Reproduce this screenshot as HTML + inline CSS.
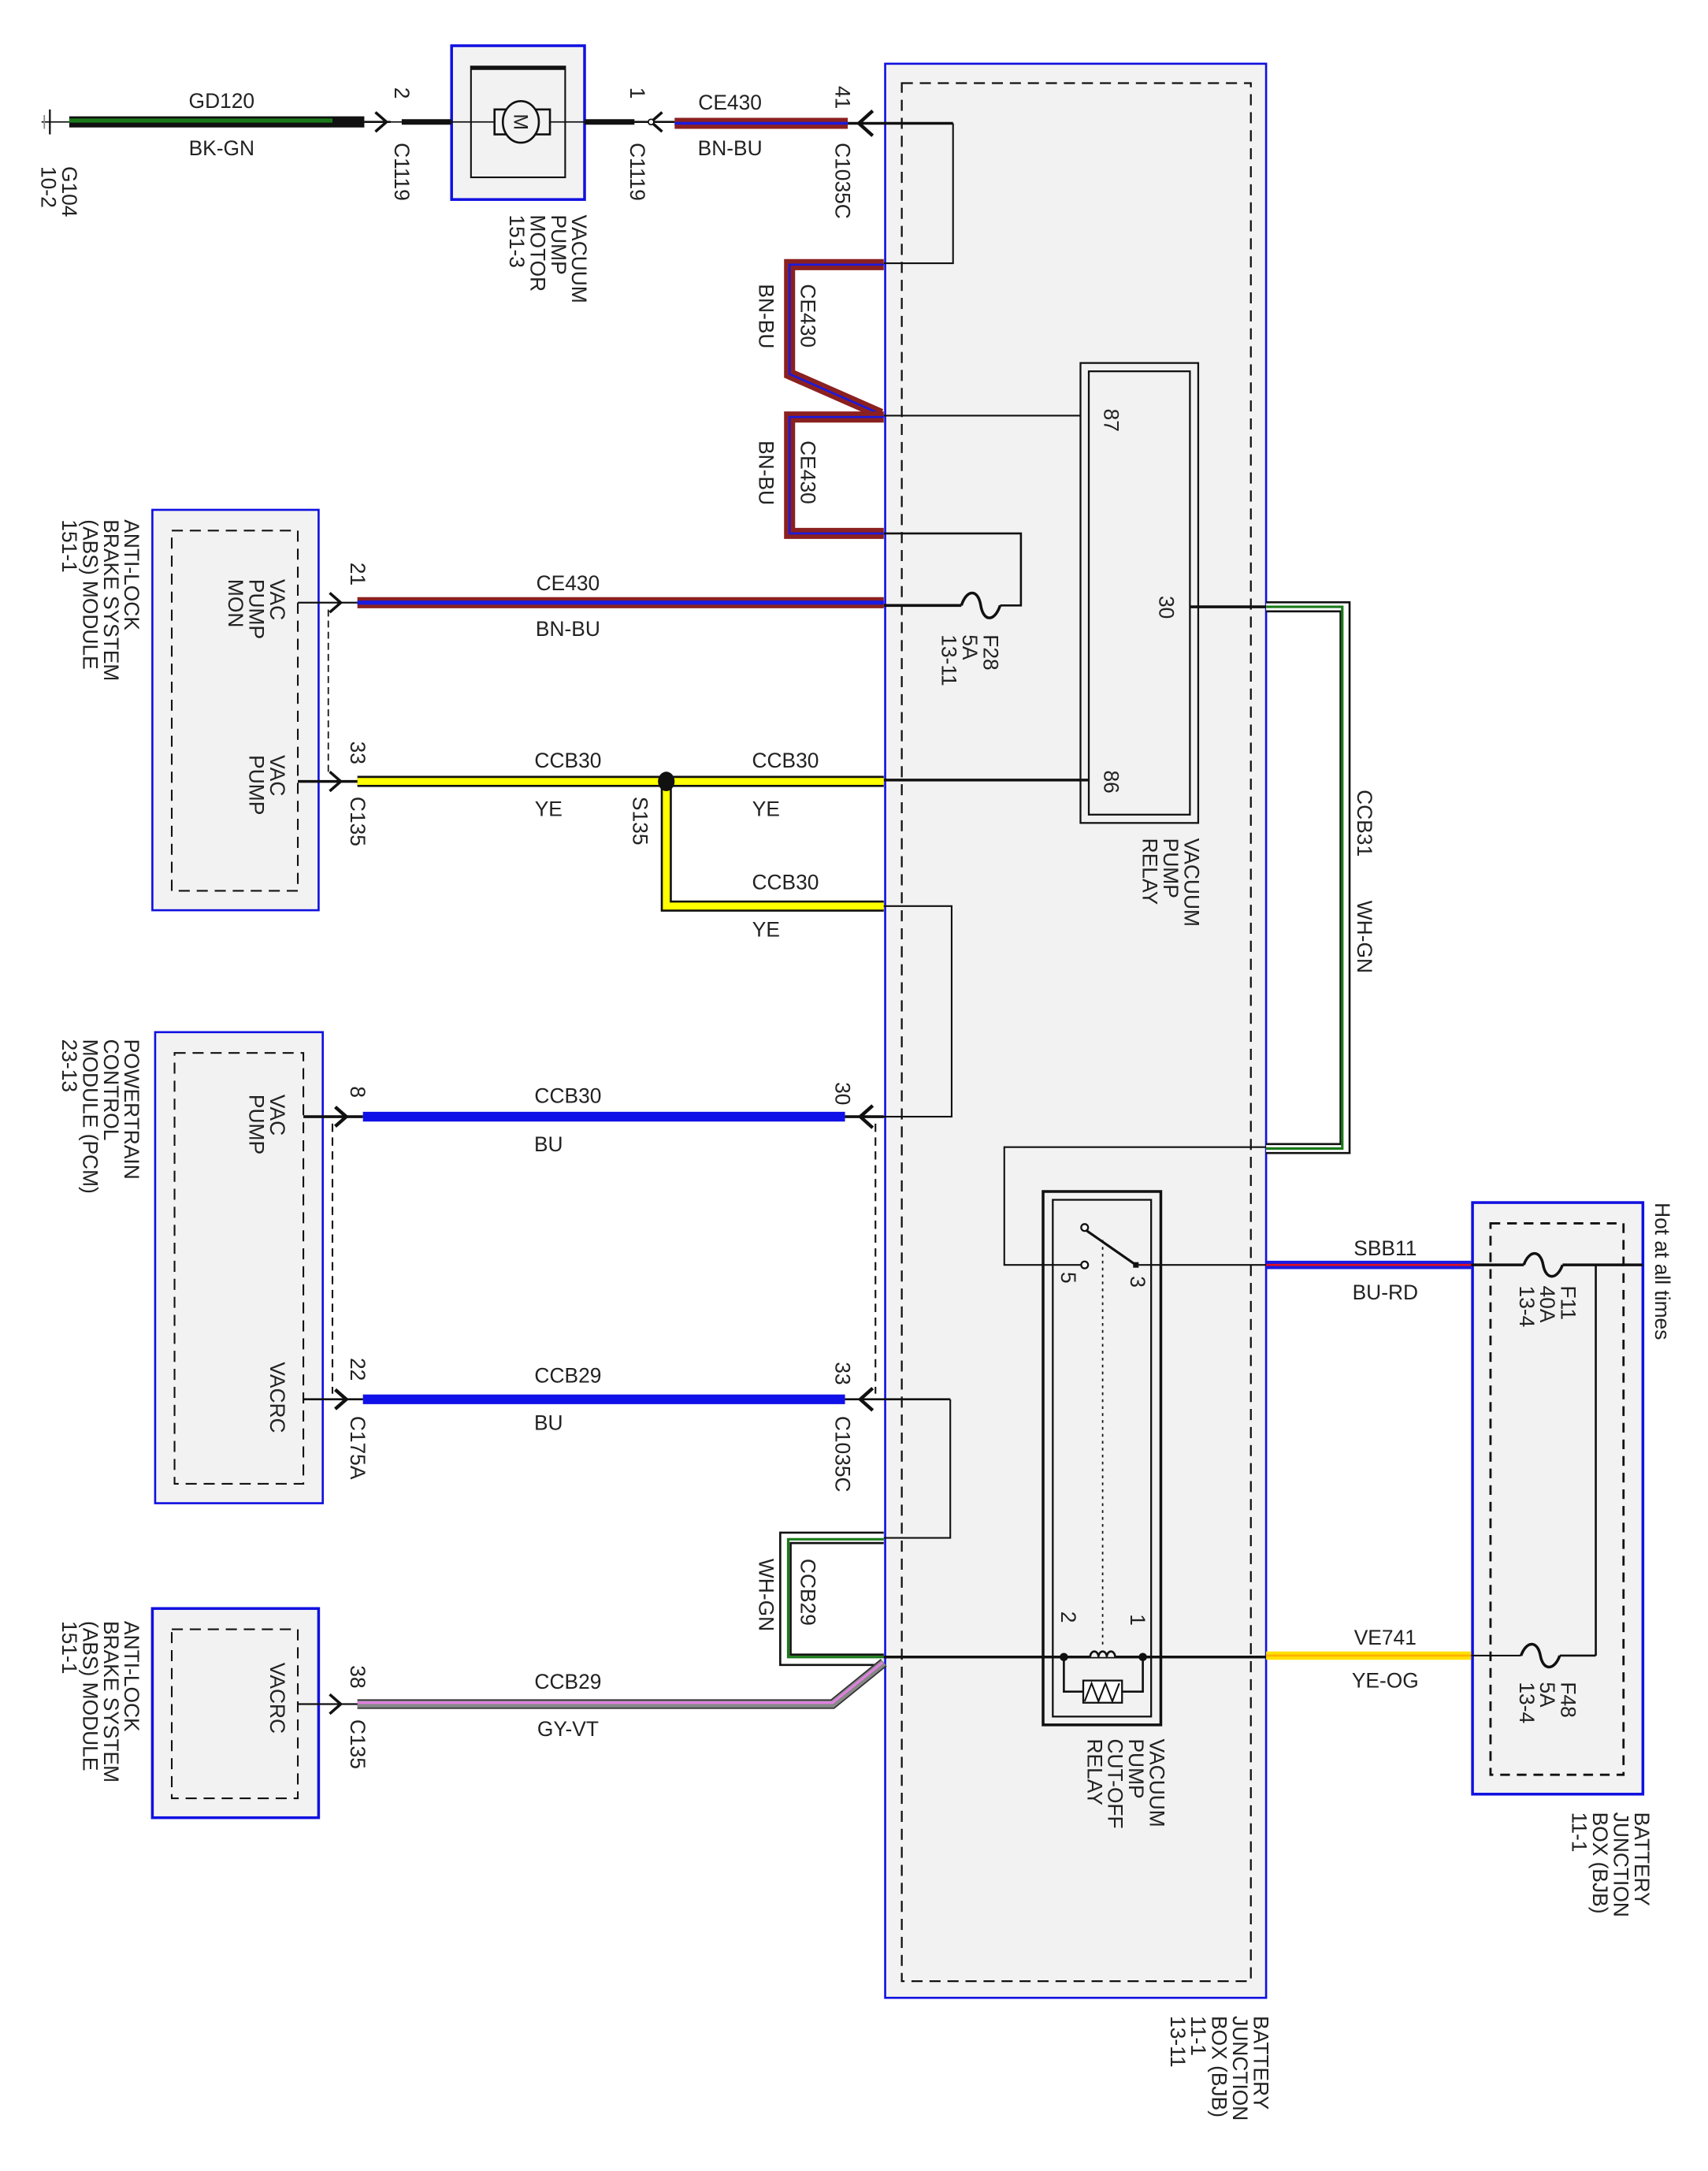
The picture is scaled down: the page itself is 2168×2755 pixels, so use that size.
<!DOCTYPE html>
<html><head><meta charset="utf-8"><style>
html,body{margin:0;padding:0;background:#fff;}
svg{display:block;}
text{font-family:"Liberation Sans",sans-serif;font-size:15px;fill:#222;}
.r{font-size:14px;}
</style></head><body>
<svg width="2168" height="2755" viewBox="0 0 1233 1567" preserveAspectRatio="none" xmlns="http://www.w3.org/2000/svg">
<!-- big BJB -->
<rect x="639" y="46" width="275" height="1396" fill="#f2f2f2" stroke="#1010e0" stroke-width="1.5"/>
<rect x="651" y="60" width="252" height="1370" fill="none" stroke="#111" stroke-width="1.3" stroke-dasharray="8,5"/>
<!-- small BJB -->
<rect x="1063" y="868" width="123" height="427" fill="#f2f2f2" stroke="#1010e0" stroke-width="2"/>
<rect x="1076" y="883" width="96" height="398" fill="none" stroke="#111" stroke-width="1.6" stroke-dasharray="7,5"/>
<!-- ABS top -->
<rect x="110" y="368" width="120" height="289" fill="#f2f2f2" stroke="#1010e0" stroke-width="1.5"/>
<rect x="124" y="383" width="91" height="260" fill="none" stroke="#111" stroke-width="1.2" stroke-dasharray="8,5"/>
<!-- PCM -->
<rect x="112" y="745" width="121" height="340" fill="#f2f2f2" stroke="#1010e0" stroke-width="1.5"/>
<rect x="126" y="760" width="93" height="311" fill="none" stroke="#111" stroke-width="1.2" stroke-dasharray="8,5"/>
<!-- ABS bottom -->
<rect x="110" y="1161" width="120" height="151" fill="#f2f2f2" stroke="#1010e0" stroke-width="2"/>
<rect x="124" y="1176" width="91" height="122" fill="none" stroke="#111" stroke-width="1.2" stroke-dasharray="8,5"/>
<!-- motor -->
<rect x="326" y="33" width="96" height="111" fill="#f2f2f2" stroke="#1010e0" stroke-width="2"/>
<rect x="340" y="48" width="68" height="80" fill="none" stroke="#111" stroke-width="1.2"/>
<line x1="340" y1="49" x2="408" y2="49" stroke="#111" stroke-width="3"/>
<line x1="280" y1="88" x2="470" y2="88" stroke="#111" stroke-width="1"/>
<rect x="357" y="79" width="40" height="18" fill="#f2f2f2" stroke="#111" stroke-width="1.5"/>
<ellipse cx="376" cy="88" rx="13" ry="15" fill="#f2f2f2" stroke="#111" stroke-width="1.5"/>
<text x="376" y="88" class="r" text-anchor="middle" transform="rotate(90 376 88)" dy="5">M</text>
<line x1="290" y1="88" x2="326" y2="88" stroke="#111" stroke-width="4"/>
<line x1="422" y1="88" x2="458" y2="88" stroke="#111" stroke-width="4"/>

<!-- ground -->
<line x1="30" y1="88" x2="50" y2="88" stroke="#111" stroke-width="1"/>
<line x1="36" y1="79" x2="36" y2="97" stroke="#111" stroke-width="1.3"/>
<line x1="32" y1="83" x2="32" y2="93" stroke="#888" stroke-width="1"/>
<!-- GD120 -->
<line x1="50" y1="88" x2="263" y2="88" stroke="#111" stroke-width="8"/>
<line x1="50" y1="87" x2="240" y2="87" stroke="#1a7a1a" stroke-width="3"/>
<line x1="263" y1="88" x2="282" y2="88" stroke="#111" stroke-width="1.5"/>
<path d="M271,81 L279,88 L271,95" fill="none" stroke="#111" stroke-width="2"/>
<!-- CE430 top -->
<line x1="487" y1="89" x2="612" y2="89" stroke="#8b2020" stroke-width="8"/>
<line x1="487" y1="89" x2="612" y2="89" stroke="#1a1ae0" stroke-width="2"/>
<line x1="458" y1="88" x2="487" y2="88" stroke="#111" stroke-width="1.5"/>
<path d="M478,81 L470,88 L478,95" fill="none" stroke="#111" stroke-width="2"/>
<circle cx="470" cy="88" r="2" fill="#fff" stroke="#111"/>
<line x1="612" y1="89" x2="688" y2="89" stroke="#111" stroke-width="2"/>
<path d="M630,80 L620,89 L630,98" fill="none" stroke="#111" stroke-width="2.5"/>
<polyline points="688,89 688,190 638,190" fill="none" stroke="#111" stroke-width="1.2"/>

<!-- CE430 loop harnesses -->
<g fill="none" stroke-linejoin="miter">
<polyline points="638,191 570,191 570,270 636,299" stroke="#8b2020" stroke-width="8"/>
<polyline points="638,191 570,191 570,270 636,299" stroke="#1a1ae0" stroke-width="1.5"/>
<polyline points="638,301 570,301 570,385 638,385" stroke="#8b2020" stroke-width="8"/>
<polyline points="638,301 570,301 570,385 638,385" stroke="#1a1ae0" stroke-width="1.5"/>
</g>
<line x1="638" y1="300" x2="780" y2="300" stroke="#111" stroke-width="1.2"/>
<polyline points="638,385 737,385 737,437 722,437" fill="none" stroke="#111" stroke-width="1.5"/>
<path d="M694,437 C698,425 706,425 708,437 C710,449 718,449 722,437" fill="none" stroke="#111" stroke-width="2"/>
<line x1="638" y1="437" x2="694" y2="437" stroke="#111" stroke-width="2"/>

<!-- relay -->
<rect x="780" y="262" width="85" height="332" fill="none" stroke="#111" stroke-width="1.3"/>
<rect x="786" y="268" width="73" height="320" fill="none" stroke="#111" stroke-width="1.3"/>
<line x1="859" y1="438" x2="914" y2="438" stroke="#111" stroke-width="2"/>
<line x1="638" y1="563" x2="786" y2="563" stroke="#111" stroke-width="2"/>

<!-- CCB31 harness -->
<polyline points="914,438 971,438 971,829 914,829" fill="none" stroke="#111" stroke-width="8"/>
<polyline points="914,438 971,438 971,829 914,829" fill="none" stroke="#fff" stroke-width="5"/>
<polyline points="914,438 969,438 969,829 914,829" fill="none" stroke="#1a7a1a" stroke-width="1.8"/>

<!-- CE430 ABS -->
<line x1="258" y1="435" x2="638" y2="435" stroke="#8b2020" stroke-width="8"/>
<line x1="258" y1="435" x2="638" y2="435" stroke="#1a1ae0" stroke-width="3"/>
<line x1="215" y1="435" x2="258" y2="435" stroke="#111" stroke-width="1.3"/>
<path d="M238,428 L246,435 L238,442" fill="none" stroke="#111" stroke-width="2"/>
<line x1="237" y1="440" x2="237" y2="560" stroke="#111" stroke-width="1" stroke-dasharray="5,3"/>

<!-- YE -->
<line x1="258" y1="564" x2="638" y2="564" stroke="#111" stroke-width="8"/>
<line x1="258" y1="564" x2="638" y2="564" stroke="#ffff00" stroke-width="5"/>
<polyline points="481,564 481,654 638,654" fill="none" stroke="#111" stroke-width="8"/>
<polyline points="481,564 481,654 638,654" fill="none" stroke="#ffff00" stroke-width="5"/>
<ellipse cx="481" cy="564" rx="6" ry="7" fill="#111"/>
<line x1="215" y1="564" x2="258" y2="564" stroke="#111" stroke-width="2"/>
<path d="M238,557 L246,564 L238,571" fill="none" stroke="#111" stroke-width="2"/>
<polyline points="638,654 687,654 687,806 620,806" fill="none" stroke="#111" stroke-width="1.2"/>

<!-- BU wires -->
<line x1="262" y1="806" x2="610" y2="806" stroke="#1010e8" stroke-width="7"/>
<line x1="219" y1="806" x2="262" y2="806" stroke="#111" stroke-width="2"/>
<path d="M242,799 L250,806 L242,813" fill="none" stroke="#111" stroke-width="2.5"/>
<line x1="610" y1="806" x2="638" y2="806" stroke="#111" stroke-width="2"/>
<path d="M630,798 L621,806 L630,814" fill="none" stroke="#111" stroke-width="2.5"/>
<line x1="262" y1="1010" x2="610" y2="1010" stroke="#1010e8" stroke-width="7"/>
<line x1="219" y1="1010" x2="262" y2="1010" stroke="#111" stroke-width="1.5"/>
<path d="M242,1003 L250,1010 L242,1017" fill="none" stroke="#111" stroke-width="2.5"/>
<line x1="610" y1="1010" x2="686" y2="1010" stroke="#111" stroke-width="1.5"/>
<path d="M630,1002 L621,1010 L630,1018" fill="none" stroke="#111" stroke-width="2.5"/>
<line x1="240" y1="811" x2="240" y2="1006" stroke="#111" stroke-width="1.2" stroke-dasharray="6,4"/>
<line x1="632" y1="811" x2="632" y2="1006" stroke="#111" stroke-width="1.2" stroke-dasharray="6,4"/>
<polyline points="686,1010 686,1110 638,1110" fill="none" stroke="#111" stroke-width="1.2"/>

<!-- CCB29 WH-GN -->
<polyline points="638,1110 567,1110 567,1198 638,1198" fill="none" stroke="#111" stroke-width="9"/>
<polyline points="638,1110 567,1110 567,1198 638,1198" fill="none" stroke="#fff" stroke-width="6"/>
<polyline points="638,1111 569,1111 569,1196 638,1196" fill="none" stroke="#1a7a1a" stroke-width="1.8"/>
<!-- GY-VT -->
<polyline points="258,1230 601,1230 638,1200" fill="none" stroke="#333" stroke-width="7"/>
<polyline points="258,1230 601,1230 638,1200" fill="none" stroke="#888" stroke-width="5"/>
<polyline points="258,1229 601,1229 637,1200" fill="none" stroke="#e080e0" stroke-width="1.8"/>
<line x1="215" y1="1230" x2="258" y2="1230" stroke="#111" stroke-width="1.3"/>
<path d="M238,1223 L246,1230 L238,1237" fill="none" stroke="#111" stroke-width="2"/>

<!-- cutoff relay -->
<rect x="753" y="860" width="85" height="385" fill="none" stroke="#111" stroke-width="2"/>
<rect x="760" y="866" width="71" height="373" fill="none" stroke="#111" stroke-width="1.3"/>
<line x1="638" y1="1196" x2="914" y2="1196" stroke="#111" stroke-width="2"/>
<path d="M787,1196 a3,4 0 0 1 6,0 a3,4 0 0 1 6,0 a3,4 0 0 1 6,0" fill="#f2f2f2" stroke="#111" stroke-width="1.5"/>
<circle cx="768" cy="1196" r="3" fill="#111"/><circle cx="825" cy="1196" r="3" fill="#111"/>
<polyline points="768,1196 768,1221 825,1221 825,1196" fill="none" stroke="#111" stroke-width="1.5"/>
<rect x="782" y="1213" width="28" height="16" fill="#fff" stroke="#111" stroke-width="1.3"/>
<polyline points="783,1228 788,1215 793,1228 798,1215 803,1228 808,1215" fill="none" stroke="#111" stroke-width="1.2"/>
<line x1="796" y1="895" x2="796" y2="1190" stroke="#111" stroke-width="1" stroke-dasharray="2,3"/>
<line x1="784" y1="888" x2="820" y2="913" stroke="#111" stroke-width="1.8"/>
<circle cx="783" cy="886" r="2.5" fill="#fff" stroke="#111" stroke-width="1.3"/>
<circle cx="783" cy="913" r="2.5" fill="#fff" stroke="#111" stroke-width="1.3"/>
<rect x="818" y="911" width="4" height="4" fill="#111"/>
<polyline points="914,828 725,828 725,913 781,913" fill="none" stroke="#111" stroke-width="1.2"/>
<line x1="822" y1="913" x2="914" y2="913" stroke="#111" stroke-width="1.2"/>

<!-- SBB11 / VE741 -->
<line x1="914" y1="913" x2="1062" y2="913" stroke="#1a1ae0" stroke-width="6"/>
<line x1="914" y1="913" x2="1062" y2="913" stroke="#e01020" stroke-width="1.5"/>
<line x1="914" y1="1195" x2="1062" y2="1195" stroke="#ffe000" stroke-width="6"/>
<line x1="914" y1="1195" x2="1062" y2="1195" stroke="#ffb000" stroke-width="1.5"/>
<line x1="1062" y1="913" x2="1100" y2="913" stroke="#111" stroke-width="2"/>
<path d="M1100,913 C1104,902 1112,902 1114,913 C1116,924 1124,924 1128,913" fill="none" stroke="#111" stroke-width="2"/>
<line x1="1128" y1="913" x2="1186" y2="913" stroke="#111" stroke-width="2"/>
<line x1="1152" y1="913" x2="1152" y2="1195" stroke="#111" stroke-width="1.5"/>
<line x1="1062" y1="1195" x2="1098" y2="1195" stroke="#111" stroke-width="1.2"/>
<path d="M1098,1195 C1102,1184 1110,1184 1112,1195 C1114,1206 1122,1206 1126,1195" fill="none" stroke="#111" stroke-width="2"/>
<line x1="1126" y1="1195" x2="1152" y2="1195" stroke="#111" stroke-width="1.5"/>

<!-- horizontal labels -->
<g text-anchor="middle">
<text x="160" y="78">GD120</text><text x="160" y="112">BK-GN</text>
<text x="527" y="79">CE430</text><text x="527" y="112">BN-BU</text>
<text x="410" y="426">CE430</text><text x="410" y="459">BN-BU</text>
<text x="410" y="554">CCB30</text><text x="396" y="589">YE</text>
<text x="567" y="554">CCB30</text><text x="553" y="589">YE</text>
<text x="567" y="642">CCB30</text><text x="553" y="676">YE</text>
<text x="410" y="796">CCB30</text><text x="396" y="831">BU</text>
<text x="410" y="998">CCB29</text><text x="396" y="1032">BU</text>
<text x="410" y="1219">CCB29</text><text x="410" y="1253">GY-VT</text>
<text x="1000" y="906">SBB11</text><text x="1000" y="938">BU-RD</text>
<text x="1000" y="1187">VE741</text><text x="1000" y="1218">YE-OG</text>
</g>

<!-- rotated labels -->
<g class="r">
<text transform="translate(45,120) rotate(90)">G104</text>
<text transform="translate(30,120) rotate(90)">10-2</text>
<text transform="translate(285,63) rotate(90)">2</text>
<text transform="translate(285,103) rotate(90)">C1119</text>
<text transform="translate(455,63) rotate(90)">1</text>
<text transform="translate(455,103) rotate(90)">C1119</text>
<text transform="translate(603,62) rotate(90)">41</text>
<text transform="translate(603,103) rotate(90)">C1035C</text>
<text transform="translate(413,155) rotate(90)">VACUUM</text>
<text transform="translate(398,155) rotate(90)">PUMP</text>
<text transform="translate(383,155) rotate(90)">MOTOR</text>
<text transform="translate(368,155) rotate(90)">151-3</text>
<text transform="translate(578,205) rotate(90)">CE430</text>
<text transform="translate(548,205) rotate(90)">BN-BU</text>
<text transform="translate(578,318) rotate(90)">CE430</text>
<text transform="translate(548,318) rotate(90)">BN-BU</text>
<text transform="translate(797,295) rotate(90)">87</text>
<text transform="translate(837,430) rotate(90)">30</text>
<text transform="translate(797,556) rotate(90)">86</text>
<text transform="translate(855,605) rotate(90)">VACUUM</text>
<text transform="translate(840,605) rotate(90)">PUMP</text>
<text transform="translate(825,605) rotate(90)">RELAY</text>
<text transform="translate(710,458) rotate(90)">F28</text>
<text transform="translate(695,458) rotate(90)">5A</text>
<text transform="translate(680,458) rotate(90)">13-11</text>
<text transform="translate(253,406) rotate(90)">21</text>
<text transform="translate(253,535) rotate(90)">33</text>
<text transform="translate(253,575) rotate(90)">C135</text>
<text transform="translate(457,575) rotate(90)">S135</text>
<text transform="translate(195,418) rotate(90)">VAC</text>
<text transform="translate(180,418) rotate(90)">PUMP</text>
<text transform="translate(165,418) rotate(90)">MON</text>
<text transform="translate(195,545) rotate(90)">VAC</text>
<text transform="translate(180,545) rotate(90)">PUMP</text>
<text transform="translate(90,375) rotate(90)">ANTI-LOCK</text>
<text transform="translate(75,375) rotate(90)">BRAKE SYSTEM</text>
<text transform="translate(60,375) rotate(90)">(ABS) MODULE</text>
<text transform="translate(45,375) rotate(90)">151-1</text>
<text transform="translate(980,570) rotate(90)">CCB31</text>
<text transform="translate(980,650) rotate(90)">WH-GN</text>
<text transform="translate(253,784) rotate(90)">8</text>
<text transform="translate(603,781) rotate(90)">30</text>
<text transform="translate(195,790) rotate(90)">VAC</text>
<text transform="translate(180,790) rotate(90)">PUMP</text>
<text transform="translate(195,983) rotate(90)">VACRC</text>
<text transform="translate(90,750) rotate(90)">POWERTRAIN</text>
<text transform="translate(75,750) rotate(90)">CONTROL</text>
<text transform="translate(60,750) rotate(90)">MODULE (PCM)</text>
<text transform="translate(45,750) rotate(90)">23-13</text>
<text transform="translate(253,980) rotate(90)">22</text>
<text transform="translate(253,1022) rotate(90)">C175A</text>
<text transform="translate(603,983) rotate(90)">33</text>
<text transform="translate(603,1022) rotate(90)">C1035C</text>
<text transform="translate(578,1125) rotate(90)">CCB29</text>
<text transform="translate(548,1125) rotate(90)">WH-GN</text>
<text transform="translate(253,1202) rotate(90)">38</text>
<text transform="translate(253,1241) rotate(90)">C135</text>
<text transform="translate(195,1200) rotate(90)">VACRC</text>
<text transform="translate(90,1170) rotate(90)">ANTI-LOCK</text>
<text transform="translate(75,1170) rotate(90)">BRAKE SYSTEM</text>
<text transform="translate(60,1170) rotate(90)">(ABS) MODULE</text>
<text transform="translate(45,1170) rotate(90)">151-1</text>
<text transform="translate(766,918) rotate(90)">5</text>
<text transform="translate(816,921) rotate(90)">3</text>
<text transform="translate(766,1163) rotate(90)">2</text>
<text transform="translate(816,1165) rotate(90)">1</text>
<text transform="translate(830,1255) rotate(90)">VACUUM</text>
<text transform="translate(815,1255) rotate(90)">PUMP</text>
<text transform="translate(800,1255) rotate(90)">CUT-OFF</text>
<text transform="translate(785,1255) rotate(90)">RELAY</text>
<text transform="translate(1127,928) rotate(90)">F11</text>
<text transform="translate(1112,928) rotate(90)">40A</text>
<text transform="translate(1097,928) rotate(90)">13-4</text>
<text transform="translate(1127,1214) rotate(90)">F48</text>
<text transform="translate(1112,1214) rotate(90)">5A</text>
<text transform="translate(1097,1214) rotate(90)">13-4</text>
<text transform="translate(1195,868) rotate(90)">Hot at all times</text>
<text transform="translate(1180,1308) rotate(90)">BATTERY</text>
<text transform="translate(1165,1308) rotate(90)">JUNCTION</text>
<text transform="translate(1150,1308) rotate(90)">BOX (BJB)</text>
<text transform="translate(1135,1308) rotate(90)">11-1</text>
<text transform="translate(905,1455) rotate(90)">BATTERY</text>
<text transform="translate(890,1455) rotate(90)">JUNCTION</text>
<text transform="translate(875,1455) rotate(90)">BOX (BJB)</text>
<text transform="translate(860,1455) rotate(90)">11-1</text>
<text transform="translate(845,1455) rotate(90)">13-11</text>
</g>
</svg>
</body></html>
